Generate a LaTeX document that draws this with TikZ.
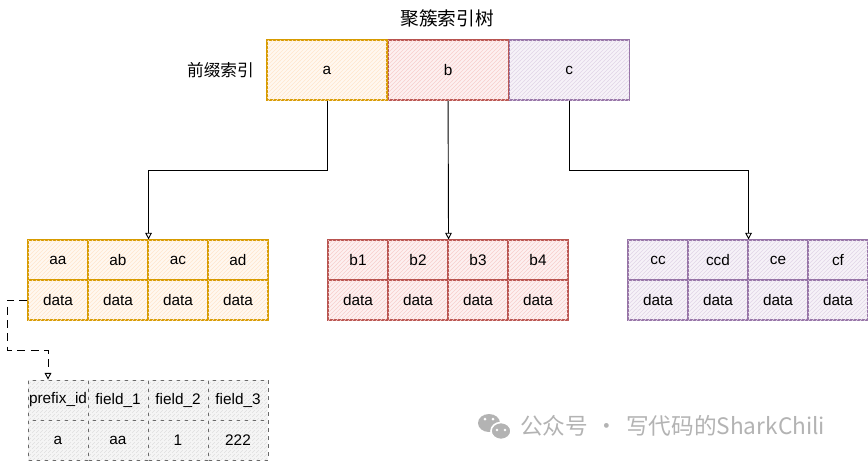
\documentclass[tikz,border=0pt]{standalone}
\usepackage{fontspec}
\setmainfont{Liberation Sans}
\newfontfamily\cjk{Noto Sans CJK SC}
\usepackage{xcolor}
\usetikzlibrary{arrows.meta, positioning, calc, patterns}

\definecolor{orgline}{HTML}{D79B00}
\definecolor{orgfill}{HTML}{FFE6CC}
\definecolor{redline}{HTML}{B85450}
\definecolor{redfill}{HTML}{F8CECC}
\definecolor{purline}{HTML}{9673A6}
\definecolor{purfill}{HTML}{E1D5E7}
\definecolor{gryline}{HTML}{666666}
\definecolor{gryfill}{HTML}{F5F5F5}
\definecolor{wmark}{HTML}{B3B3B3}

\tikzset{
    cell/.style={draw, rectangle, minimum width=45pt, minimum height=30pt, inner sep=0pt, line width=0.8pt, font=\fontsize{11.5}{13}\selectfont},
    keybox/.style={cell, minimum width=90pt, minimum height=45pt},
    hatch/.style 2 args={draw=#1, fill=#2!30, postaction={pattern=north east lines, pattern color=#2}},
    orgcell/.style={cell, hatch={orgline}{orgfill}},
    redcell/.style={cell, hatch={redline}{redfill}},
    purcell/.style={cell, hatch={purline}{purfill}},
    grycell/.style={cell, draw=gryline, fill=gryfill, postaction={pattern=north east lines, pattern color=gray!25}, dashed, line width=0.6pt},
    link/.style={-{Triangle[open, length=5pt, width=5pt]}, line width=0.7pt}
}

\begin{document}
\begin{tikzpicture}[x=0.75pt, y=-0.75pt]
    \useasboundingbox (0,0) rectangle (868,461);

    % cluster index keys
    \node[font=\cjk\fontsize{14}{16}\selectfont] (title) at (447,18) {聚簇索引树};
    \node[keybox, hatch={orgline}{orgfill}] (topa) at (327,70) {a};
    \node[keybox, hatch={redline}{redfill}, right=0pt of topa] (topb) {b};
    \node[keybox, hatch={purline}{purfill}, right=0pt of topb] (topc) {c};
    \node[font=\cjk\fontsize{12.5}{14}\selectfont, left=6pt of topa] (prefix) {前缀索引};

    % leaf tables
    \foreach \t [count=\i] in {aa,ab,ac,ad} {
        \node[orgcell] (ka\i) at ({-2+60*\i},260) {\t};
        \node[orgcell] (da\i) at ({-2+60*\i},300) {data};
    }
    \foreach \t [count=\i] in {b1,b2,b3,b4} {
        \node[redcell] (kb\i) at ({298+60*\i},260) {\t};
        \node[redcell] (db\i) at ({298+60*\i},300) {data};
    }
    \foreach \t [count=\i] in {cc,ccd,ce,cf} {
        \node[purcell] (kc\i) at ({598+60*\i},260) {\t};
        \node[purcell] (dc\i) at ({598+60*\i},300) {data};
    }

    % row of the prefix table
    \foreach \t/\v [count=\i] in {prefix\_id/a, field\_1/aa, field\_2/1, field\_3/222} {
        \node[grycell] (p\i) at ({-2+60*\i},400) {\t};
        \node[grycell] (v\i) at ({-2+60*\i},440) {\v};
    }

    \draw[link] (topa.south) -- ++(0,70) -| (ka2.north east);
    \draw[link] (topb.south) -- (kb2.north east);
    \draw[link] (topc.south) -- ++(0,70) -| (kc2.north east);

    \draw[link, dash pattern=on 6pt off 4pt] (da1.west) -- ++(-20,0) -- ++(0,50) -| ($(p1.north)+(-10,0)$);

    % watermark
    \fill[wmark] (489,423) ellipse (11 and 9);
    \draw[fill=wmark, line width=1.2pt, draw=white] (501,431) ellipse (10 and 8.5);
    \fill[white] (485,419) circle (1.5) (493,419) circle (1.5) (497,430) circle (1.3) (505,430) circle (1.3);
    \node[font=\cjk\fontsize{17}{19}\selectfont, text=wmark, anchor=west, inner sep=0pt] (wm) at (520,426) {公众号\,\,·\,\,写代码的SharkChili};
\end{tikzpicture}
\end{document}
